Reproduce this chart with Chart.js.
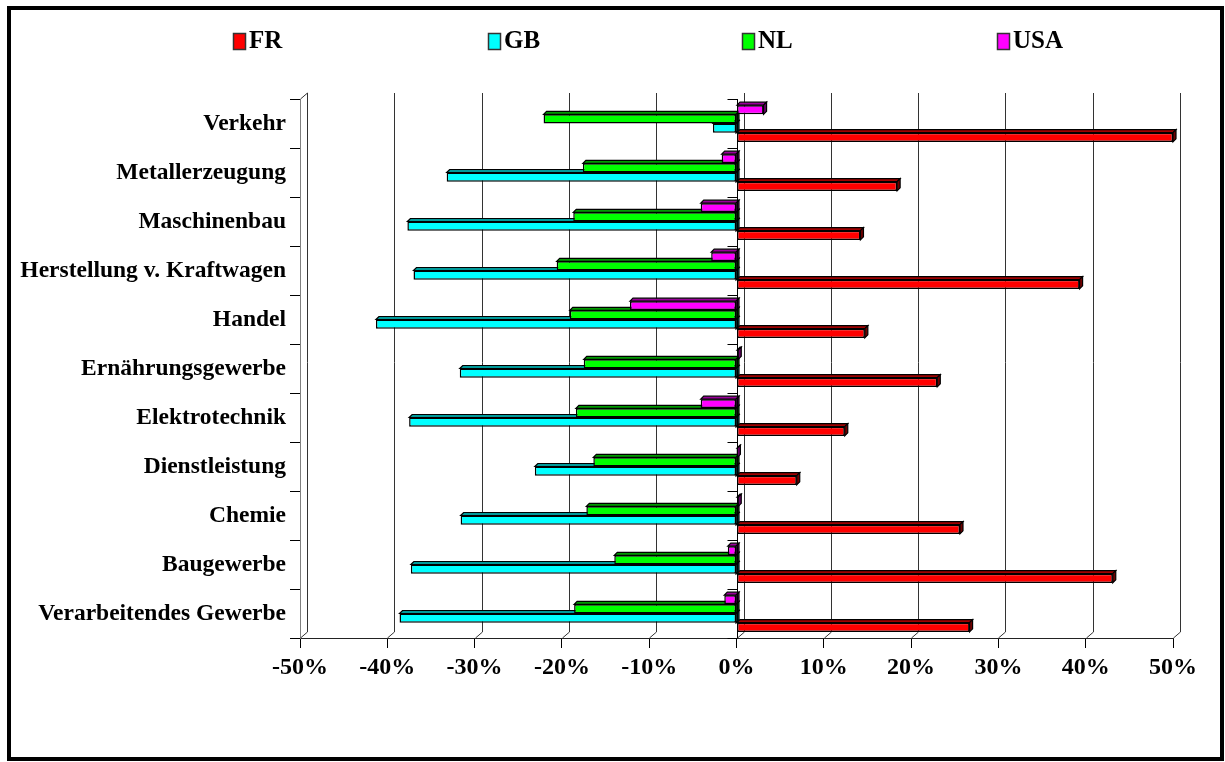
<!DOCTYPE html>
<html>
<head>
<meta charset="utf-8">
<script src="https://cdn.jsdelivr.net/npm/chart.js@4.4.1/dist/chart.umd.min.js"></script>
<style>
  html, body { margin: 0; padding: 0; background: #fff; }
  #wrap { position: relative; width: 1225px; height: 762px; }
</style>
</head>
<body>
<div id="wrap"><canvas id="c"></canvas></div>
<script>
// Sectors, listed top to bottom
const categories = [
  'Verkehr', 'Metallerzeugung', 'Maschinenbau', 'Herstellung v. Kraftwagen',
  'Handel', 'Ernährungsgewerbe', 'Elektrotechnik', 'Dienstleistung',
  'Chemie', 'Baugewerbe', 'Verarbeitendes Gewerbe'
];
// Change in percent per country
const valuesFR  = [50.0, 18.4, 14.2, 39.3, 14.7, 23.0, 12.4, 6.9, 25.6, 43.1, 26.7];
const valuesGB  = [-2.7, -33.2, -37.7, -37.0, -41.3, -31.7, -37.5, -23.1, -31.6, -37.3, -38.6];
const valuesNL  = [-22.1, -17.6, -18.7, -20.6, -19.1, -17.5, -18.4, -16.4, -17.2, -14.0, -18.6];
const valuesUSA = [3.1, -1.7, -4.1, -2.9, -12.2, 0.2, -4.1, 0.1, 0.2, -1.0, -1.4];
// Value axis ticks
const tickValues = [-50, -40, -30, -20, -10, 0, 10, 20, 30, 40, 50];
const legendOrder = ['FR', 'GB', 'NL', 'USA'];

const SERIF = '"Liberation Serif", "Times New Roman", serif';
const palette = {
  FR:  { front: '#ff0000', top: '#a00000', side: '#700000' },
  GB:  { front: '#00ffff', top: '#009a9a', side: '#006868' },
  NL:  { front: '#00ff00', top: '#009a00', side: '#006800' },
  USA: { front: '#ff00ff', top: '#9a009a', side: '#680068' }
};

// Within each group the bars run top to bottom: USA, NL, GB, FR
const series = [
  { label: 'USA', data: valuesUSA },
  { label: 'NL',  data: valuesNL },
  { label: 'GB',  data: valuesGB },
  { label: 'FR',  data: valuesFR }
];

const WALL = { dx: 7, dy: -6 };   // depth of the back wall
const BAR  = { dx: 3, dy: -3 };   // depth of each bar

function poly(ctx, pts, fill) {
  ctx.beginPath();
  ctx.moveTo(pts[0][0], pts[0][1]);
  for (let i = 1; i < pts.length; i++) ctx.lineTo(pts[i][0], pts[i][1]);
  ctx.closePath();
  ctx.fillStyle = fill;
  ctx.fill();
  ctx.stroke();
}

// Back wall grid, floor edges and the depth faces of the bars
const depthPlugin = {
  id: 'depth3d',
  beforeDatasetsDraw(chart) {
    const { ctx, chartArea: a, scales: { x } } = chart;
    ctx.save();
    ctx.lineWidth = 1;
    ctx.strokeStyle = '#333';
    x.ticks.forEach(t => {
      const px = Math.round(x.getPixelForValue(t.value)) + 0.5;
      ctx.beginPath();
      ctx.moveTo(px, a.bottom);
      ctx.lineTo(px + WALL.dx, a.bottom + WALL.dy);
      ctx.lineTo(px + WALL.dx, a.top + WALL.dy);
      ctx.stroke();
    });
    ctx.beginPath();
    ctx.moveTo(a.left + 0.5, a.top);
    ctx.lineTo(a.left + 0.5 + WALL.dx, a.top + WALL.dy);
    ctx.stroke();

    // faces: lower bars first so the bars above cover them
    ctx.strokeStyle = '#000';
    ctx.lineWidth = 1.2;
    for (let d = chart.data.datasets.length - 1; d >= 0; d--) {
      const ds = chart.data.datasets[d];
      const col = palette[ds.label];
      chart.getDatasetMeta(d).data.forEach(el => {
        const p = el.getProps(['x', 'y', 'base', 'height'], true);
        const left = Math.min(p.x, p.base), right = Math.max(p.x, p.base);
        const top = p.y - p.height / 2, bottom = p.y + p.height / 2;
        poly(ctx, [[left, top], [left + BAR.dx, top + BAR.dy], [right + BAR.dx, top + BAR.dy], [right, top]], col.top);
        poly(ctx, [[right, top], [right + BAR.dx, top + BAR.dy], [right + BAR.dx, bottom + BAR.dy], [right, bottom]], col.side);
      });
    }
    ctx.restore();
  },
  afterDatasetsDraw(chart) {
    // category axis crossing at 0 %
    const { ctx, chartArea: a, scales: { x, y } } = chart;
    const x0 = Math.round(x.getPixelForValue(0)) + 0.5;
    ctx.save();
    ctx.strokeStyle = '#000';
    ctx.lineWidth = 1;
    ctx.beginPath();
    ctx.moveTo(x0, a.top);
    ctx.lineTo(x0, a.bottom);
    for (let i = 0; i <= categories.length; i++) {
      const py = Math.round(y.getPixelForValue(i - 0.5)) + 0.5;
      ctx.moveTo(x0 - 10, py);
      ctx.lineTo(x0, py);
    }
    ctx.stroke();
    ctx.restore();
  },
  afterDraw(chart) {
    const { ctx } = chart;
    ctx.save();
    // legend row
    const startX = 233, step = 254.7, cy = 41;
    ctx.font = 'bold 25px ' + SERIF;
    ctx.textBaseline = 'middle';
    ctx.textAlign = 'left';
    legendOrder.forEach((name, i) => {
      const ds = chart.data.datasets.find(s => s.label === name);
      const bx = Math.round(startX + i * step);
      ctx.fillStyle = palette[ds.label].front;
      ctx.fillRect(bx, cy - 8, 12, 16);
      ctx.strokeStyle = '#333';
      ctx.lineWidth = 1.5;
      ctx.strokeRect(bx + 0.5, cy - 8 + 0.5, 12, 16);
      ctx.fillStyle = '#000';
      ctx.fillText(ds.label, bx + 16, cy + 1);
    });
    // outer frame
    ctx.strokeStyle = '#000';
    ctx.lineWidth = 4;
    ctx.strokeRect(9, 8, 1213, 751);
    ctx.restore();
  }
};

new Chart(document.getElementById('c'), {
  type: 'bar',
  data: {
    labels: categories,
    datasets: series.map(s => ({
      label: s.label,
      data: s.data,
      backgroundColor: palette[s.label].front,
      borderColor: '#000',
      borderWidth: 1.5,
      borderSkipped: false,
      categoryPercentage: 0.75,
      barPercentage: 1.0
    }))
  },
  options: {
    indexAxis: 'y',
    responsive: true,
    maintainAspectRatio: false,
    animation: false,
    events: [],
    layout: { padding: { top: 99, right: 52, left: 0, bottom: 0 } },
    plugins: {
      legend: { display: false },
      tooltip: { enabled: false }
    },
    scales: {
      x: {
        min: -50,
        max: 50,
        afterBuildTicks: s => { s.ticks = tickValues.map(v => ({ value: v })); },
        afterFit: s => { s.height = 124; },
        grid: { drawOnChartArea: false, drawTicks: true, tickLength: 10, color: '#000' },
        border: { display: true, color: '#222', width: 1 },
        ticks: {
          padding: 5,
          color: '#000',
          font: { family: SERIF, size: 24, weight: 'bold' },
          callback: v => v + '%'
        }
      },
      y: {
        afterFit: s => { s.width = 300; },
        grid: { drawOnChartArea: false, drawTicks: true, tickLength: 10, color: '#000', offset: true },
        border: { display: true, color: '#808080', width: 1 },
        ticks: {
          padding: 4,
          color: '#000',
          autoSkip: false,
          font: { family: SERIF, size: 23.5, weight: 'bold' }
        }
      }
    }
  },
  plugins: [depthPlugin]
});
</script>
</body>
</html>
